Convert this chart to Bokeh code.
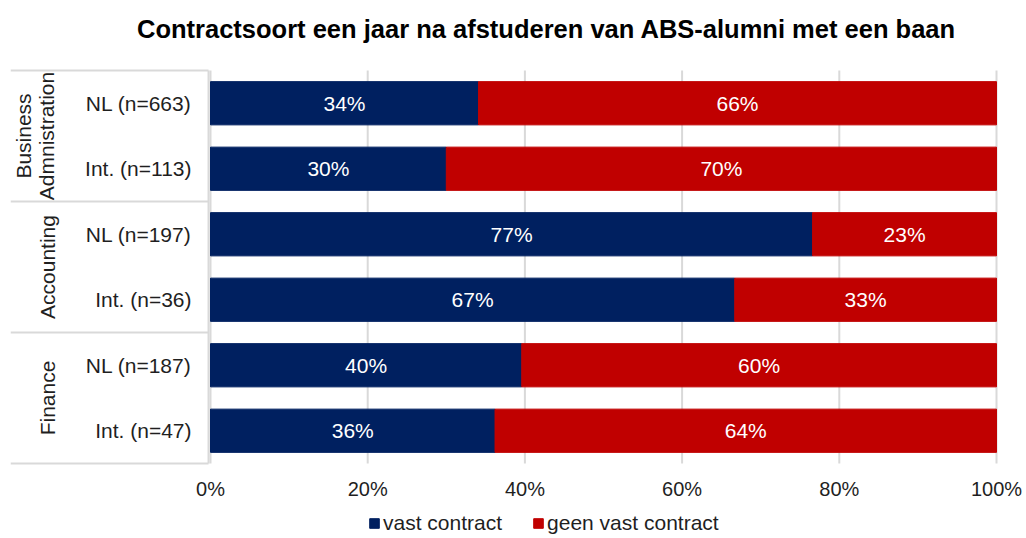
from bokeh.plotting import figure
from bokeh.models import Range1d, Legend, LegendItem, ColumnDataSource
from bokeh.core.properties import value
from bokeh.embed import file_html
from bokeh.resources import INLINE
import math

# ---- data ----
title_text = "Contractsoort een jaar na afstuderen van ABS-alumni met een baan"
groups = ["Business\nAdmnistration", "Accounting", "Finance"]
group_rows = [[0, 1], [2, 3], [4, 5]]
subgroups = ["NL (n=663)", "Int. (n=113)", "NL (n=197)", "Int. (n=36)", "NL (n=187)", "Int. (n=47)"]
vast = [34.1, 30.0, 76.6, 66.7, 39.6, 36.2]
geen = [65.9, 70.0, 23.4, 33.3, 60.4, 63.8]
series_names = ["vast contract", "geen vast contract"]
ticks = [0, 20, 40, 60, 80, 100]
tick_labels = ["0%", "20%", "40%", "60%", "80%", "100%"]

NAVY = "#002060"
RED = "#C00000"
GRID = "#D9D9D9"
TXT = "#1F1F1F"
FONT = "Liberation Sans"
FS = "21px"

n = len(subgroups)
ys = [n - 0.5 - i for i in range(n)]

src = ColumnDataSource(dict(
    y=ys, vast=vast, geen=geen,
    end=[v + g for v, g in zip(vast, geen)],
    vmid=[v / 2 for v in vast],
    gmid=[v + g / 2 for v, g in zip(vast, geen)],
    vlab=[f"{round(v)}%" for v in vast],
    glab=[f"{round(g)}%" for g in geen],
    sub=subgroups,
))

px_x = 7.86          # pixels per x unit
px_y = 393 / n       # pixels per row
x_left = -200 / px_x
x_right = 100 + 28 / px_x
frame_w = 1014
frame_h = 536
bar_bottom_px = 463  # page y of the bottom of the bar area
y_top = bar_bottom_px / px_y
y_bot = -(frame_h - bar_bottom_px) / px_y

p = figure(frame_width=frame_w, frame_height=frame_h, output_backend="svg", toolbar_location=None,
           x_range=Range1d(x_left, x_right), y_range=Range1d(y_bot, y_top),
           min_border_left=10, min_border_right=0, min_border_top=0, min_border_bottom=0)
p.outline_line_color = None
p.background_fill_color = "white"
p.border_fill_color = "white"
p.xaxis.visible = False
p.yaxis.visible = False
p.xgrid.grid_line_color = None
p.ygrid.grid_line_color = None

# grid lines at the value ticks
p.segment(x0=ticks, x1=ticks, y0=[0] * len(ticks), y1=[n] * len(ticks),
          line_color=GRID, line_width=2)

# tick labels of the value scale
p.text(x=ticks, y=[-25 / px_y] * len(ticks), text=tick_labels,
       text_align="center", text_baseline="middle", text_color=TXT,
       text_font=value(FONT), text_font_size="20px")

# title
p.text(x=[(546 - 210) / px_x], y=[n + 42 / px_y], text=[title_text],
       text_align="center", text_baseline="middle", text_color="#000000",
       text_font=value(FONT), text_font_size="25.5px", text_font_style="bold")

# left category area separators
sep_y = [n - r[0] for r in group_rows] + [0]
p.segment(x0=[x_left] * len(sep_y), x1=[-0.25] * len(sep_y), y0=sep_y, y1=sep_y,
          line_color=GRID, line_width=2)
p.segment(x0=[-0.25], x1=[-0.25], y0=[0], y1=[n], line_color=GRID, line_width=2)

# bars
r1 = p.hbar(y="y", left=0, right="vast", height=0.66, source=src, fill_color=NAVY, line_color=NAVY)
r2 = p.hbar(y="y", left="vast", right="end", height=0.66, source=src, fill_color=RED, line_color=RED)

# value labels
p.text(x="vmid", y="y", text="vlab", source=src, text_align="center", text_baseline="middle",
       text_color="white", text_font=value(FONT), text_font_size=FS)
p.text(x="gmid", y="y", text="glab", source=src, text_align="center", text_baseline="middle",
       text_color="white", text_font=value(FONT), text_font_size=FS)

# subgroup labels
p.text(x=-19 / px_x, y="y", text="sub", source=src, text_align="right", text_baseline="middle",
       text_color=TXT, text_font=value(FONT), text_font_size=FS)

# group labels (rotated)
gy = [n - (r[0] + r[-1] + 1) / 2 for r in group_rows]
gx = [(34 - 210) / px_x if "\n" in g else (47 - 210) / px_x for g in groups]
p.text(x=gx, y=gy, text=groups, angle=math.pi / 2, text_align="center", text_baseline="middle",
       text_color=TXT, text_font=value(FONT), text_font_size=FS, text_line_height=1.0)

# legend (inside the frame, below the tick labels)
legend = Legend(items=[LegendItem(label=series_names[0], renderers=[r1]),
                       LegendItem(label=series_names[1], renderers=[r2])],
                orientation="horizontal", location=(358, 1))
legend.label_text_font = FONT
legend.label_text_font_size = FS
legend.label_text_color = TXT
legend.glyph_width = 12
legend.glyph_height = 12
legend.label_height = 20
legend.label_standoff = 3
legend.spacing = 30
legend.padding = 0
legend.margin = 0
legend.border_line_color = None
legend.background_fill_alpha = 0
p.add_layout(legend)

open("out.html", "w").write(file_html(p, INLINE))
